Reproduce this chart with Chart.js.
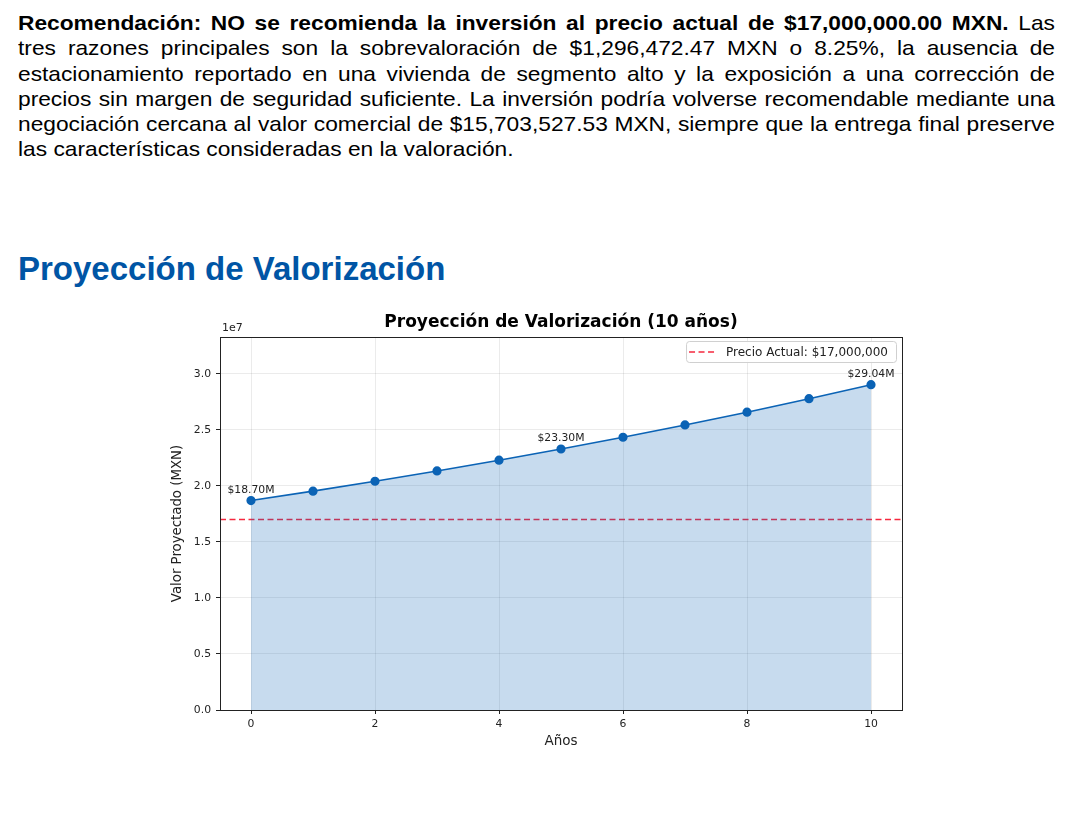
<!DOCTYPE html>
<html lang="es">
<head>
<meta charset="utf-8">
<script src="https://cdn.jsdelivr.net/npm/chart.js@4.4.1/dist/chart.umd.min.js"></script>
<style>
  body { margin: 0; background: #fff; width: 1072px; height: 816px; overflow: hidden; position: relative; }
  .texto {
    position: absolute; left: 18px; top: 10px; width: 957.5px;
    font-family: "Liberation Sans", Arial, sans-serif; font-size: 21px; line-height: 25.3px;
    text-align: justify; color: #000; margin: 0;
    transform: scaleX(1.083); transform-origin: 0 0;
  }
  h2 {
    position: absolute; left: 18px; top: 250px; margin: 0;
    font-family: "Liberation Sans", Arial, sans-serif; font-size: 33px; font-weight: bold; color: #0055a5;
  }
  #wrap { position: absolute; left: 150px; top: 300px; width: 770px; height: 470px; }
</style>
</head>
<body>
<p class="texto"><b>Recomendación: NO se recomienda la inversión al precio actual de $17,000,000.00 MXN.</b> Las tres razones principales son la sobrevaloración de $1,296,472.47 MXN o 8.25%, la ausencia de estacionamiento reportado en una vivienda de segmento alto y la exposición a una corrección de precios sin margen de seguridad suficiente. La inversión podría volverse recomendable mediante una negociación cercana al valor comercial de $15,703,527.53 MXN, siempre que la entrega final preserve las características consideradas en la valoración.</p>
<h2>Proyección de Valorización</h2>
<div id="wrap"><canvas id="chart"></canvas></div>
<script>
// ===== Data =====
const years = [0, 1, 2, 3, 4, 5, 6, 7, 8, 9, 10];
const projectedValues = [18700000, 19540000, 20420000, 21340000, 22300000, 23300000,
                         24350000, 25450000, 26590000, 27790000, 29040000];
const labeledYears = [0, 5, 10];
const currentPrice = 17000000;
const yTicks = [0, 5000000, 10000000, 15000000, 20000000, 25000000, 30000000];
const xTicks = [0, 2, 4, 6, 8, 10];

const blue = '#0b63b5';
const red = '#f5283f';
const fmtMoney = v => '$' + v.toLocaleString('en-US');

Chart.defaults.font.family = '"DejaVu Sans", sans-serif';
Chart.defaults.color = '#222';

// ===== Extra drawing: frame, point labels, 1e7, legend =====
const decorations = {
  id: 'decorations',
  afterDraw(chart) {
    const { ctx, chartArea: a } = chart;
    ctx.save();
    // frame
    ctx.strokeStyle = '#222';
    ctx.lineWidth = 1;
    ctx.strokeRect(a.left + 0.5, a.top + 0.5, a.right - a.left, a.bottom - a.top);

    // offset label
    ctx.fillStyle = '#222';
    ctx.font = '11px "DejaVu Sans"';
    ctx.textAlign = 'left';
    ctx.textBaseline = 'bottom';
    ctx.fillText('1e7', a.left + 2, a.top - 3);

    // point labels
    const meta = chart.getDatasetMeta(0);
    ctx.font = '10.8px "DejaVu Sans"';
    ctx.textAlign = 'center';
    ctx.textBaseline = 'bottom';
    labeledYears.forEach(yr => {
      const i = years.indexOf(yr);
      const pt = meta.data[i];
      ctx.fillText('$' + (projectedValues[i] / 1e6).toFixed(2) + 'M', pt.x, pt.y - 5);
    });

    // legend
    const label = chart.data.datasets[1].label;
    ctx.font = '12px "DejaVu Sans"';
    const tw = ctx.measureText(label).width;
    const bw = tw + 48, bh = 21;
    const bx = a.right - 6 - bw, by = a.top + 4;
    ctx.fillStyle = 'rgba(255,255,255,0.9)';
    ctx.strokeStyle = '#d0d0d0';
    ctx.beginPath();
    ctx.roundRect(bx + 0.5, by + 0.5, bw, bh, 3);
    ctx.fill();
    ctx.stroke();
    ctx.strokeStyle = red;
    ctx.lineWidth = 1.5;
    ctx.setLineDash([6, 3.5]);
    ctx.beginPath();
    ctx.moveTo(bx + 3, by + bh / 2 + 0.5);
    ctx.lineTo(bx + 29, by + bh / 2 + 0.5);
    ctx.stroke();
    ctx.setLineDash([]);
    ctx.fillStyle = '#222';
    ctx.textAlign = 'left';
    ctx.textBaseline = 'middle';
    ctx.fillText(label, bx + 40, by + bh / 2 + 1);
    ctx.restore();
  }
};

new Chart(document.getElementById('chart'), {
  type: 'line',
  data: {
    datasets: [
      {
        label: 'Valor Proyectado',
        data: years.map((x, i) => ({ x, y: projectedValues[i] })),
        borderColor: blue,
        borderWidth: 1.6,
        backgroundColor: 'rgba(11, 99, 181, 0.23)',
        fill: 'origin',
        pointRadius: 3.8,
        pointBackgroundColor: blue,
        pointBorderColor: blue,
        tension: 0
      },
      {
        label: 'Precio Actual: ' + fmtMoney(currentPrice),
        data: [{ x: -0.5, y: currentPrice }, { x: 10.5, y: currentPrice }],
        borderColor: red,
        borderWidth: 1.5,
        borderDash: [6, 3.5],
        pointRadius: 0,
        fill: false
      }
    ]
  },
  options: {
    responsive: true,
    maintainAspectRatio: false,
    animation: false,
    layout: { padding: { top: 0, right: 18, bottom: 10, left: 0 } },
    plugins: {
      legend: { display: false },
      tooltip: { enabled: false },
      title: {
        display: true,
        fullSize: false,
        text: 'Proyección de Valorización (10 años)',
        color: '#000',
        font: { size: 17, weight: 'bold' },
        padding: { top: 12, bottom: 4.6 }
      }
    },
    scales: {
      x: {
        type: 'linear',
        min: -0.5,
        max: 10.5,
        afterFit: s => { s.height = 50; },
        afterBuildTicks: s => { s.ticks = xTicks.map(v => ({ value: v })); },
        ticks: { font: { size: 10.8 }, color: '#222', padding: 4, maxRotation: 0 },
        grid: { color: 'rgba(0,0,0,0.08)', tickColor: '#222', tickLength: 4 },
        border: { display: false },
        title: { display: true, text: 'Años', font: { size: 13.5 }, color: '#222', padding: { top: 0, bottom: 10 } }
      },
      y: {
        min: 0,
        max: 33300000,
        afterFit: s => { s.width = 70; },
        afterBuildTicks: s => { s.ticks = yTicks.map(v => ({ value: v })); },
        ticks: { font: { size: 10.8 }, color: '#222', padding: 5, callback: v => (v / 1e7).toFixed(1) },
        grid: { color: 'rgba(0,0,0,0.08)', tickColor: '#222', tickLength: 4 },
        border: { display: false },
        title: { display: true, text: 'Valor Proyectado (MXN)', font: { size: 13.3 }, color: '#222', padding: { top: 20, bottom: 0 } }
      }
    }
  },
  plugins: [decorations]
});
</script>
</body>
</html>
